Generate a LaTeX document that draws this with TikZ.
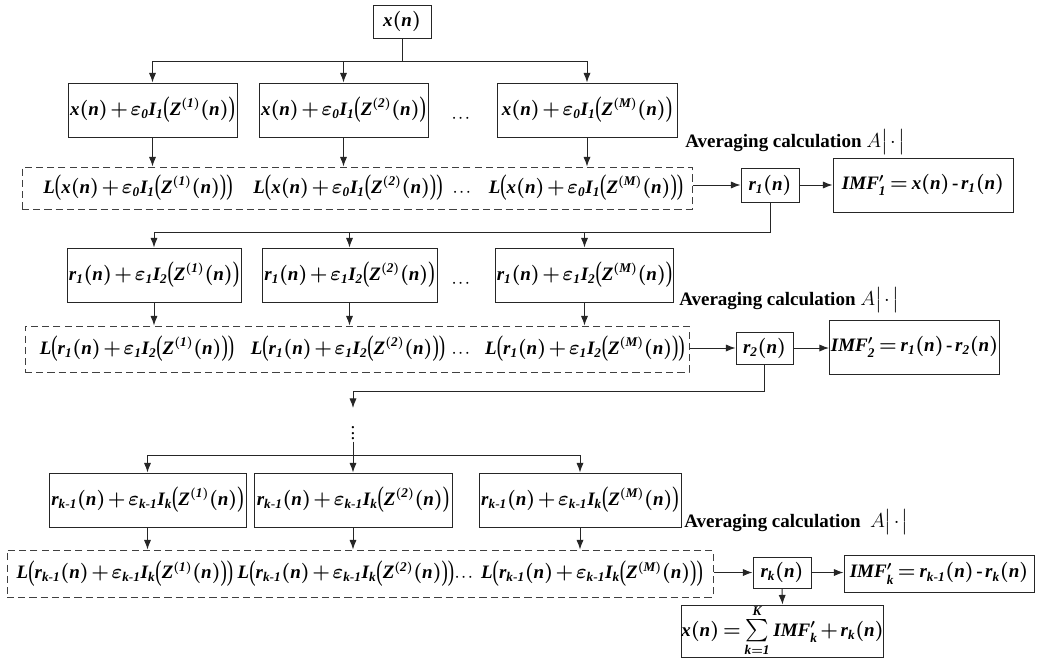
\documentclass[tikz,border=0pt]{standalone}
\usepackage{amsmath}
\usepackage{graphicx}
\usepackage{fontspec}
\setmainfont{Liberation Serif}
\usetikzlibrary{arrows.meta}
\newcommand{\pxl}{0.025cm}
\newcommand{\bigp}{\mathopen{\vcenter{\hbox{\scalebox{1}[1.5]{(}}}}}
\newcommand{\bigq}{\mathclose{\vcenter{\hbox{\scalebox{1}[1.5]{)}}}}}
\newcommand{\km}{k\text{-}1}
\newcommand{\resta}{\mathbin{\text{\bfseries -}}}
\newcommand{\suma}{\mathop{\vcenter{\hbox{\scalebox{1.1}{$\textstyle\sum$}}}}}
\medmuskip=2mu plus 1mu minus 2mu\relax
\thickmuskip=3mu plus 2mu\relax
\tikzset{
  caja/.style={draw=black!85, line width=0.7pt, inner sep=1pt, font=\fontsize{13.5}{16}\selectfont\boldmath},
  cajadash/.style={draw=black!75, dash pattern=on 5pt off 3pt, line width=0.7pt, inner sep=0pt},
  texto/.style={inner sep=1pt, font=\fontsize{13.5}{16}\selectfont\boldmath},
  puntos/.style={inner sep=0pt, font=\fontsize{9}{10}\selectfont\boldmath},
  promedio/.style={anchor=west, inner sep=0pt, font=\fontsize{13.5}{16}\selectfont\bfseries},
  flecha/.style={-{Latex[length=2.4mm,width=1.8mm]}, line width=0.7pt, draw=black!85},
  linea/.style={line width=0.7pt, draw=black!85},
}
\begin{document}
\begin{tikzpicture}[x=0.025cm, y=-0.025cm]
\useasboundingbox (0,0) rectangle (1039,659);

% Senal original
\node[caja, minimum width=58*\pxl, minimum height=33*\pxl] (xn) at (402,21.5) {$\mathit{x(n)}$};

% Primera etapa
\node[caja, minimum width=169*\pxl, minimum height=54*\pxl] (a1) at (152.5,110) {$\mathit{x(n)+\varepsilon_0 I_1\bigp Z^{(1)}(n)\bigq}$};
\node[caja, minimum width=169*\pxl, minimum height=54*\pxl] (a2) at (343.5,110) {$\mathit{x(n)+\varepsilon_0 I_1\bigp Z^{(2)}(n)\bigq}$};
\node[puntos] (ad) at (462,118) {$\cdots$};
\node[caja, minimum width=180*\pxl, minimum height=54*\pxl] (a3) at (587,110) {$\mathit{x(n)+\varepsilon_0 I_1\bigp Z^{(M)}(n)\bigq}$};
\node[promedio] (avg1) at (685,142) {Averaging calculation $A\big|\cdot\big|$};

\node[cajadash, minimum width=670*\pxl, minimum height=42*\pxl] (la) at (357,188) {};
\node[texto] (la1) at (138,188) {$\mathit{L\bigp x(n)+\varepsilon_0 I_1\bigp Z^{(1)}(n)\bigq\bigq}$};
\node[texto] (la2) at (348,188) {$\mathit{L\bigp x(n)+\varepsilon_0 I_1\bigp Z^{(2)}(n)\bigq\bigq}$};
\node[puntos] (lad) at (463,192) {$\cdots$};
\node[texto] (la3) at (586,188) {$\mathit{L\bigp x(n)+\varepsilon_0 I_1\bigp Z^{(M)}(n)\bigq\bigq}$};

\node[caja, minimum width=58*\pxl, minimum height=34*\pxl] (r1) at (770,185) {$\mathit{r_1(n)}$};
\node[caja, minimum width=180*\pxl, minimum height=54*\pxl] (imf1) at (923,185) {$\mathit{IMF'_1=x(n)\resta r_1(n)}$};

% Segunda etapa
\node[caja, minimum width=174*\pxl, minimum height=54*\pxl] (b1) at (154,275) {$\mathit{r_1(n)+\varepsilon_1 I_2\bigp Z^{(1)}(n)\bigq}$};
\node[caja, minimum width=175*\pxl, minimum height=54*\pxl] (b2) at (349.5,275) {$\mathit{r_1(n)+\varepsilon_1 I_2\bigp Z^{(2)}(n)\bigq}$};
\node[puntos] (bd) at (462,283) {$\cdots$};
\node[caja, minimum width=175*\pxl, minimum height=54*\pxl] (b3) at (584.5,275) {$\mathit{r_1(n)+\varepsilon_1 I_2\bigp Z^{(M)}(n)\bigq}$};
\node[promedio] (avg2) at (679,300) {Averaging calculation $A\big|\cdot\big|$};

\node[cajadash, minimum width=664*\pxl, minimum height=46*\pxl] (lb) at (357,349) {};
\node[texto] (lb1) at (137,349) {$\mathit{L\bigp r_1(n)+\varepsilon_1 I_2\bigp Z^{(1)}(n)\bigq\bigq}$};
\node[texto] (lb2) at (348,349) {$\mathit{L\bigp r_1(n)+\varepsilon_1 I_2\bigp Z^{(2)}(n)\bigq\bigq}$};
\node[puntos] (lbd) at (462,353) {$\cdots$};
\node[texto] (lb3) at (585,349) {$\mathit{L\bigp r_1(n)+\varepsilon_1 I_2\bigp Z^{(M)}(n)\bigq\bigq}$};

\node[caja, minimum width=57*\pxl, minimum height=32*\pxl] (r2) at (764.5,348) {$\mathit{r_2(n)}$};
\node[caja, minimum width=167*\pxl, minimum height=54*\pxl] (imf2) at (914.5,347) {$\mathit{IMF'_2=r_1(n)\resta r_2(n)}$};

% Puntos suspensivos
\node[texto] (vd) at (353,429) {$\vdots$};

% Etapa k
\node[caja, minimum width=197*\pxl, minimum height=54*\pxl] (c1) at (147.5,500) {$\mathit{r_{\km}(n)+\varepsilon_{\km}I_k\bigp Z^{(1)}(n)\bigq}$};
\node[caja, minimum width=198*\pxl, minimum height=54*\pxl] (c2) at (353,500) {$\mathit{r_{\km}(n)+\varepsilon_{\km}I_k\bigp Z^{(2)}(n)\bigq}$};
\node[caja, minimum width=202*\pxl, minimum height=54*\pxl] (c3) at (580,500) {$\mathit{r_{\km}(n)+\varepsilon_{\km}I_k\bigp Z^{(M)}(n)\bigq}$};
\node[promedio] (avg3) at (684,522) {Averaging calculation\ \ $A\big|\cdot\big|$};

\node[cajadash, minimum width=706*\pxl, minimum height=47*\pxl] (lc) at (360,573.5) {};
\node[texto] (lc1) at (125,573.5) {$\mathit{L\bigp r_{\km}(n)+\varepsilon_{\km}I_k\bigp Z^{(1)}(n)\bigq\bigq}$};
\node[texto] (lc2) at (346,573.5) {$\mathit{L\bigp r_{\km}(n)+\varepsilon_{\km}I_k\bigp Z^{(2)}(n)\bigq\bigq}$};
\node[puntos] (lcd) at (465,577) {$\cdots$};
\node[texto] (lc3) at (592,573.5) {$\mathit{L\bigp r_{\km}(n)+\varepsilon_{\km}I_k\bigp Z^{(M)}(n)\bigq\bigq}$};

\node[caja, minimum width=58*\pxl, minimum height=31*\pxl] (rk) at (782,572.5) {$\mathit{r_k(n)}$};
\node[caja, minimum width=190*\pxl, minimum height=37*\pxl] (imfk) at (939,573.5) {$\mathit{IMF'_k=r_{\km}(n)\resta r_k(n)}$};
\node[caja, inner sep=0pt, minimum width=199*\pxl, minimum height=52*\pxl] (sum) at (782.5,631) {$\mathit{x(n)=\suma\limits_{k=1}^{K}IMF'_k+r_k(n)}$};

% Conexiones
\coordinate (ra1) at (0,61);
\coordinate (ra2) at (0,232);
\coordinate (ra3) at (353,391);
\coordinate (pt) at (353,408);
\coordinate (ra4) at (353,455);

\draw[linea] (xn.south) -- (xn.south |- ra1);
\draw[linea] (a1.north |- ra1) -- (a3.north |- ra1);
\foreach \c in {a1,a2,a3} \draw[flecha] (\c.north |- ra1) -- (\c.north);
\foreach \c in {a1,a2,a3} \draw[flecha] (\c.south) -- (\c.south |- la.north);
\draw[flecha] (la.east |- r1) -- (r1.west);
\draw[flecha] (r1.east) -- (imf1.west);

\draw[linea] (r1.south) -- (r1.south |- ra2) -- (b1.north |- ra2);
\foreach \c in {b1,b2,b3} \draw[flecha] (\c.north |- ra2) -- (\c.north);
\foreach \c in {b1,b2,b3} \draw[flecha] (\c.south) -- (\c.south |- lb.north);
\draw[flecha] (lb.east |- r2) -- (r2.west);
\draw[flecha] (r2.east) -- (imf2.west |- r2);

\draw[linea] (r2.south) |- (ra3);
\draw[flecha] (ra3) -- (pt);
\draw[linea] (vd.south) -- (ra4);
\draw[linea] (c1.north |- ra4) -- (c3.north |- ra4);
\foreach \c in {c1,c2,c3} \draw[flecha] (\c.north |- ra4) -- (\c.north);
\foreach \c in {c1,c2,c3} \draw[flecha] (\c.south) -- (\c.south |- lc.north);
\draw[flecha] (lc.east |- rk) -- (rk.west);
\draw[flecha] (rk.east) -- (imfk.west |- rk);
\draw[flecha] (rk.south) -- (sum.north);
\end{tikzpicture}
\end{document}
